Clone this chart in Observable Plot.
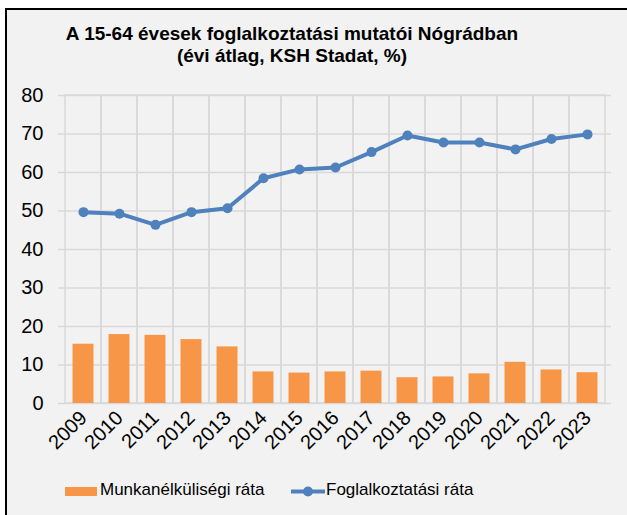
<!DOCTYPE html>
<html>
<head>
<meta charset="utf-8">
<script src="https://cdn.jsdelivr.net/npm/d3@7"></script>
<script src="https://cdn.jsdelivr.net/npm/@observablehq/plot@0.6"></script>
<style>
  html, body { margin: 0; padding: 0; background: #fff; overflow: hidden; }
  #wrap { position: relative; width: 627px; height: 515px; overflow: hidden; font-family: "Liberation Sans", Arial, sans-serif; }
  #frame { position: absolute; left: 5px; top: 8px; width: 700px; height: 600px; background: #f2f2f2; border-left: 2px solid #000; border-top: 2px solid #000; }
  #title { position: absolute; left: 0; top: 23px; width: 584px; text-align: center; font-weight: bold; font-size: 19px; line-height: 22px; color: #000; }
  #chart { position: absolute; left: 0; top: 0; }
  #legend { position: absolute; left: 0; top: 480px; width: 627px; height: 22px; font-size: 17px; color: #000; }
  .sw { position: absolute; }
  .lt { position: absolute; top: 0; line-height: 20px; }
</style>
</head>
<body>
<div id="wrap">
  <div id="frame"></div>
  <div id="title">A 15-64 évesek foglalkoztatási mutatói Nógrádban<br>(évi átlag, KSH Stadat, %)</div>
  <div id="chart"></div>
  <div id="legend"></div>
</div>
<script>
const years = ["2009","2010","2011","2012","2013","2014","2015","2016","2017","2018","2019","2020","2021","2022","2023"];
const unemployment = [15.4, 17.9, 17.7, 16.6, 14.7, 8.2, 7.9, 8.2, 8.4, 6.7, 6.9, 7.7, 10.7, 8.7, 8.0];
const employment = [49.7, 49.3, 46.4, 49.7, 50.7, 58.5, 60.8, 61.3, 65.3, 69.6, 67.8, 67.8, 66.0, 68.7, 69.9];
const yTicks = [0, 10, 20, 30, 40, 50, 60, 70, 80];
const seriesNames = ["Munkanélküliségi ráta", "Foglalkoztatási ráta"];

const orange = "#F79646";
const blue = "#4F81BD";
const grid = "#D9D9D9";

const data = years.map((y, i) => ({year: y, u: unemployment[i], e: employment[i]}));

const chart = Plot.plot({
  width: 627,
  height: 515,
  marginLeft: 58,
  marginRight: 16,
  marginTop: 95,
  marginBottom: 112,
  style: {background: "transparent", fontFamily: "'Liberation Sans', Arial, sans-serif", fontSize: "20px", color: "#000"},
  x: {type: "band", domain: years, padding: 0, label: null},
  y: {domain: [0, 80], label: null},
  marks: [
    Plot.gridY(yTicks, {stroke: grid, strokeOpacity: 1, strokeWidth: 1.5}),
    Plot.cell(years, {x: d => d, fill: "none", stroke: grid, strokeWidth: 1.5}),
    Plot.barY(data, {x: "year", y: "u", fill: orange, insetLeft: 7.5, insetRight: 7.5}),
    Plot.line(data, {x: "year", y: "e", stroke: blue, strokeWidth: 4}),
    Plot.dot(data, {x: "year", y: "e", fill: blue, r: 5}),
    Plot.axisY(yTicks, {tickSize: 0, tickPadding: 15, fontSize: 20}),
    Plot.axisX({tickSize: 0, tickPadding: 11, tickRotate: -45, fontSize: 20})
  ]
});
document.getElementById("chart").appendChild(chart);

const legend = document.getElementById("legend");
legend.innerHTML = `
  <div class="sw" style="left:65px;top:7px;width:32px;height:9px;background:${orange}"></div>
  <div class="lt" style="left:100px">${seriesNames[0]}</div>
  <svg class="sw" style="left:290px;top:0px" width="36" height="22">
    <line x1="1" y1="11.5" x2="35" y2="11.5" stroke="${blue}" stroke-width="4"/>
    <circle cx="18" cy="11.5" r="5" fill="${blue}"/>
  </svg>
  <div class="lt" style="left:326px">${seriesNames[1]}</div>
`;
</script>
</body>
</html>
